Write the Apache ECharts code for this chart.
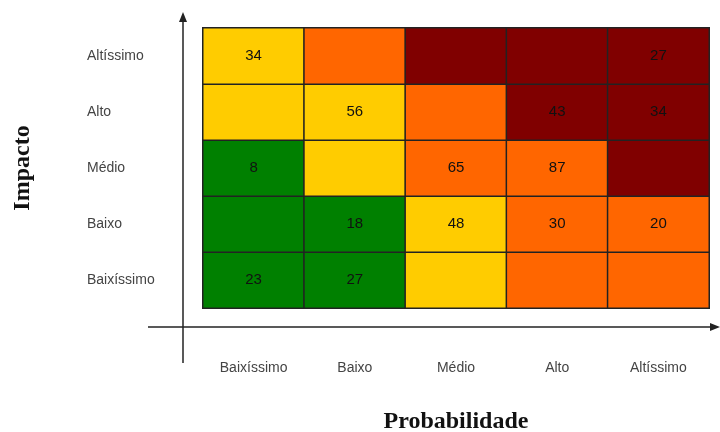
<!DOCTYPE html>
<html>
<head>
<meta charset="utf-8">
<script src="https://cdn.jsdelivr.net/npm/echarts@6/dist/echarts.min.js"></script>
<style>
html,body{margin:0;padding:0;background:#fff;}
#chart{width:720px;height:432px;}
</style>
</head>
<body>
<div id="chart"></div>
<script>
// Probability (x) and impact (y) levels
const probabilidade = ['Baixíssimo', 'Baixo', 'Médio', 'Alto', 'Altíssimo'];
const impacto = ['Baixíssimo', 'Baixo', 'Médio', 'Alto', 'Altíssimo'];

// Risk level per cell (1 = baixo … 4 = crítico), rows from Baixíssimo impact upward
const nivelBaixissimo = [1, 1, 2, 3, 3];
const nivelBaixo      = [1, 1, 2, 3, 3];
const nivelMedio      = [1, 2, 3, 3, 4];
const nivelAlto       = [2, 2, 3, 4, 4];
const nivelAltissimo  = [2, 3, 4, 4, 4];

// Number of risks in each cell (null = empty)
const qtdBaixissimo = [23, 27, null, null, null];
const qtdBaixo      = [null, 18, 48, 30, 20];
const qtdMedio      = [8, null, 65, 87, null];
const qtdAlto       = [null, 56, null, 43, 34];
const qtdAltissimo  = [34, null, null, null, 27];

const niveis = [nivelBaixissimo, nivelBaixo, nivelMedio, nivelAlto, nivelAltissimo];
const quantidades = [qtdBaixissimo, qtdBaixo, qtdMedio, qtdAlto, qtdAltissimo];

const cores = ['#008000', '#FFCC00', '#FF6600', '#800000'];

const data = [];
niveis.forEach((row, y) => {
  row.forEach((nivel, x) => {
    data.push([x, y, nivel, quantidades[y][x]]);
  });
});

const chart = echarts.init(document.getElementById('chart'));
const labelFont = 'Liberation Sans, Arial, sans-serif';

chart.setOption({
  animation: false,
  grid: { left: 203, right: 11, top: 28, bottom: 124, outerBoundsMode: 'none' },
  xAxis: {
    type: 'category',
    data: probabilidade,
    axisLine: { show: false },
    axisTick: { show: false },
    splitLine: { show: false },
    axisLabel: { margin: 53, fontSize: 14, color: '#444', fontFamily: labelFont },
    name: 'Probabilidade',
    nameLocation: 'middle',
    nameGap: 102,
    nameTextStyle: { fontFamily: 'Liberation Serif, Times New Roman, serif', fontWeight: 'bold', fontSize: 24, color: '#111' }
  },
  yAxis: {
    type: 'category',
    data: impacto,
    axisLine: { show: false },
    axisTick: { show: false },
    splitLine: { show: false },
    axisLabel: { margin: 116, align: 'left', fontSize: 14, color: '#444', fontFamily: labelFont },
    name: 'Impacto',
    nameLocation: 'middle',
    nameGap: 168,
    nameRotate: 90,
    nameTextStyle: { fontFamily: 'Liberation Serif, Times New Roman, serif', fontWeight: 'bold', fontSize: 24, color: '#111' }
  },
  visualMap: {
    show: false,
    type: 'piecewise',
    dimension: 2,
    pieces: [
      { value: 1, color: cores[0] },
      { value: 2, color: cores[1] },
      { value: 3, color: cores[2] },
      { value: 4, color: cores[3] }
    ]
  },
  series: [{
    type: 'heatmap',
    data: data,
    itemStyle: { borderColor: '#222', borderWidth: 1.5 },
    label: {
      show: true,
      formatter: p => (p.data[3] == null ? '' : String(p.data[3])),
      fontSize: 15,
      color: '#111',
      fontFamily: labelFont
    },
    emphasis: { disabled: true }
  }],
  graphic: [
    // vertical axis arrow
    { type: 'line', shape: { x1: 183, y1: 20, x2: 183, y2: 363 }, style: { stroke: '#222', lineWidth: 1.5 } },
    { type: 'polygon', shape: { points: [[183, 12], [179, 22], [187, 22]] }, style: { fill: '#222' } },
    // horizontal axis arrow
    { type: 'line', shape: { x1: 148, y1: 327, x2: 712, y2: 327 }, style: { stroke: '#222', lineWidth: 1.5 } },
    { type: 'polygon', shape: { points: [[720, 327], [710, 323], [710, 331]] }, style: { fill: '#222' } }
  ]
});
</script>
</body>
</html>
